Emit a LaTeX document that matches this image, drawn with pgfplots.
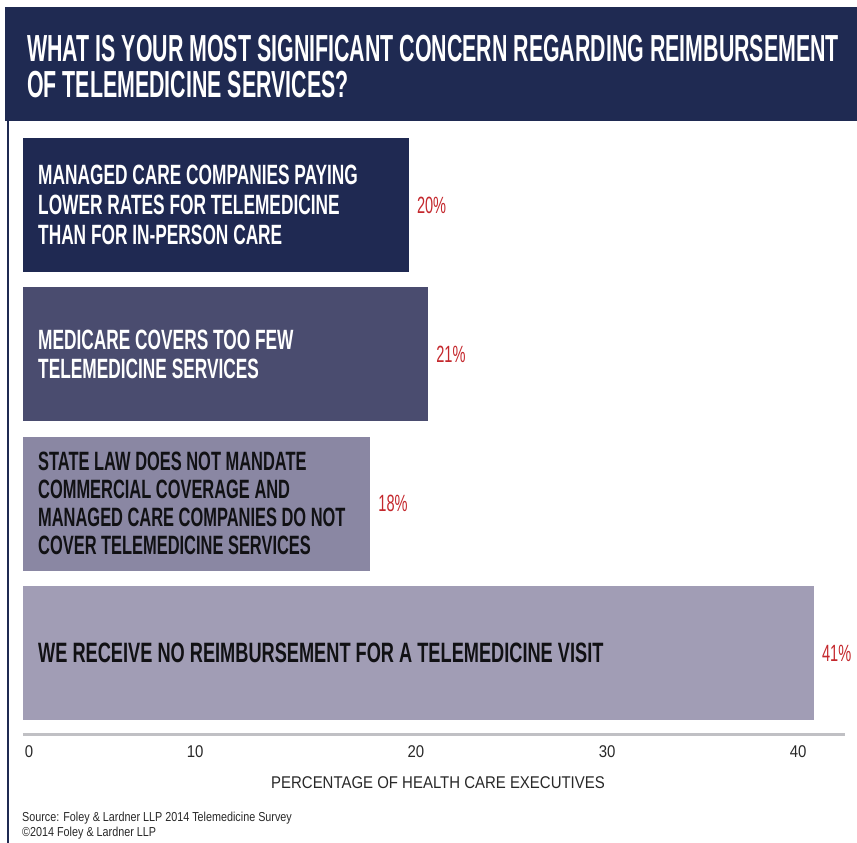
\documentclass[border=0pt]{standalone}
\usepackage{pgfplots}
\pgfplotsset{compat=1.18}
\usepackage{fontspec}
\setmainfont{Liberation Sans}
\newfontfamily\condb[FakeStretch=0.567]{Liberation Sans Bold}
\newfontfamily\condbar[FakeStretch=0.62]{Liberation Sans Bold}
\newfontfamily\condbarw[FakeStretch=0.65]{Liberation Sans Bold}
\newfontfamily\condpct[FakeStretch=0.62]{Liberation Sans}
\newfontfamily\condtick[FakeStretch=0.88]{Liberation Sans}
\newfontfamily\condsrc[FakeStretch=0.83]{Liberation Sans}
\definecolor{navy}{RGB}{31,42,82}
\definecolor{barA}{RGB}{31,41,82}
\definecolor{barB}{RGB}{74,76,111}
\definecolor{barC}{RGB}{138,135,163}
\definecolor{barD}{RGB}{161,157,181}
\definecolor{pctred}{RGB}{196,40,45}
\definecolor{axgray}{RGB}{192,192,196}
\definecolor{txtgray}{RGB}{40,40,40}
\definecolor{txtdark}{RGB}{17,17,20}
\begin{document}
\begin{tikzpicture}
\path[use as bounding box] (0pt,0pt) rectangle (857pt,843pt);
% title band
\fill[navy] (5pt,722pt) rectangle (857pt,836pt);
\fill[navy] (6.5pt,0pt) rectangle (8.5pt,722pt);
\node[anchor=base west, inner sep=0pt, text=white, font=\condb\fontsize{37.7}{37}\selectfont] at (27pt,781pt) {WHAT IS YOUR MOST SIGNIFICANT CONCERN REGARDING REIMBURSEMENT};
\node[anchor=base west, inner sep=0pt, text=white, font=\condb\fontsize{37.7}{37}\selectfont] at (27pt,745pt) {OF TELEMEDICINE SERVICES?};
\begin{axis}[
  at={(23pt,108pt)}, anchor=south west,
  scale only axis, width=822pt, height=604.6pt,
  xmin=0, xmax=42.61, ymin=0.451, ymax=4.5,
  xbar, bar width=134pt,
  axis x line=bottom, axis y line=none,
  axis line style={draw=axgray, line width=3pt, -},
  major tick length=0pt,
  xtick={0.31,8.92,20.37,30.28,40.18},
  xticklabels={0,10,20,30,40},
  xticklabel style={font=\condtick\fontsize{17}{17}\selectfont, text=txtgray, anchor=north, inner sep=0pt, yshift=-10pt},
  ytick=\empty,
  clip=false,
  /pgf/number format/assume math mode=true,
  nodes near coords={\pgfmathprintnumber[assume math mode=true]{\pgfplotspointmeta}\%},
  point meta=x,
  nodes near coords style={font=\condpct\fontsize{23.5}{23.5}\selectfont, text=pctred, anchor=west, inner sep=0pt, xshift=8pt},
]
\addplot[fill=barA, draw=none, bar shift=0pt] coordinates {(20,4)};
\addplot[fill=barB, draw=none, bar shift=0pt] coordinates {(21,3)};
\addplot[fill=barC, draw=none, bar shift=0pt] coordinates {(18,2)};
\addplot[fill=barD, draw=none, bar shift=0pt] coordinates {(41,1)};
\node[anchor=west, align=left, inner sep=0pt, xshift=15pt, text=white, font=\condbar\fontsize{27.9}{29.8}\selectfont] at (axis cs:0,4) {MANAGED CARE COMPANIES PAYING\\LOWER RATES FOR TELEMEDICINE\\THAN FOR IN-PERSON CARE};
\node[anchor=west, align=left, inner sep=0pt, xshift=15pt, text=white, font=\condbar\fontsize{27.9}{28.5}\selectfont] at (axis cs:0,3) {MEDICARE COVERS TOO FEW\\TELEMEDICINE SERVICES};
\node[anchor=west, align=left, inner sep=0pt, xshift=15pt, text=txtdark, font=\condbar\fontsize{26.5}{28}\selectfont] at (axis cs:0,2) {STATE LAW DOES NOT MANDATE\\COMMERCIAL COVERAGE AND\\MANAGED CARE COMPANIES DO NOT\\COVER TELEMEDICINE SERVICES};
\node[anchor=west, align=left, inner sep=0pt, xshift=15pt, text=txtdark, font=\condbarw\fontsize{28}{29}\selectfont] at (axis cs:0,1) {WE RECEIVE NO REIMBURSEMENT FOR A TELEMEDICINE VISIT};
\end{axis}
\node[anchor=center, inner sep=0pt, text=txtgray, font=\condtick\fontsize{17}{17}\selectfont] at (438pt,60pt) {PERCENTAGE OF HEALTH CARE EXECUTIVES};
\node[anchor=base west, inner sep=0pt, text=txtgray, font=\condsrc\fontsize{13}{16}\selectfont] at (22pt,21pt) {Source: Foley \& Lardner LLP 2014 Telemedicine Survey};
\node[anchor=base west, inner sep=0pt, text=txtgray, font=\condsrc\fontsize{13}{16}\selectfont] at (22pt,6.5pt) {\textcopyright2014 Foley \& Lardner LLP};
\end{tikzpicture}
\end{document}
